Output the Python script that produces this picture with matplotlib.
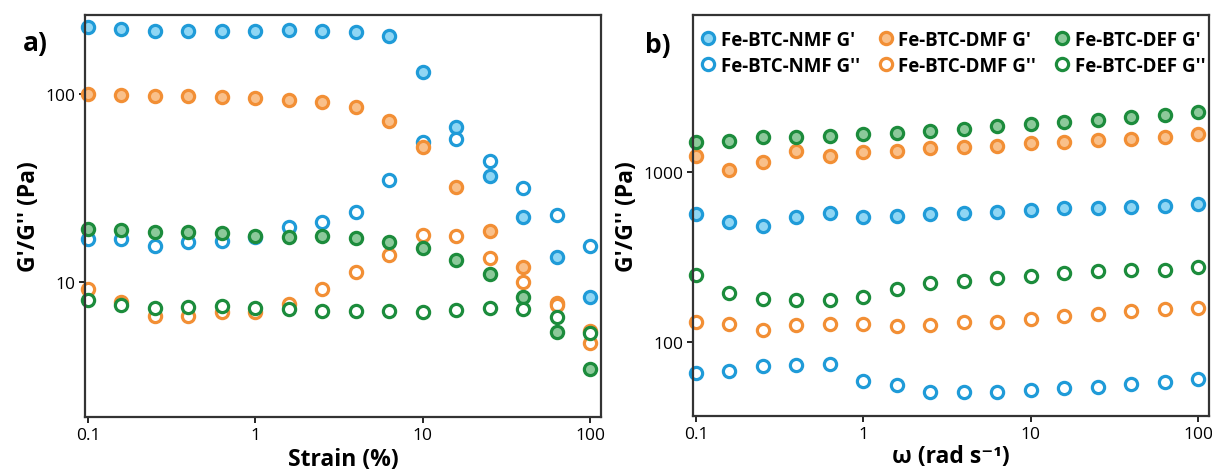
import numpy as np
import matplotlib
matplotlib.use('Agg')
import matplotlib.pyplot as plt

plt.rcParams['font.family'] = ['Open Sans', 'DejaVu Sans']

# shared x grid (strain % / omega rad/s)
x_pts = [0.1, 0.158, 0.251, 0.398, 0.631, 1.0, 1.585, 2.51, 3.98, 6.31,
         10.0, 15.85, 25.1, 39.8, 63.1, 100.0]

# panel a) strain sweep
a_nmf_g1 = [226, 222, 216, 216, 216, 216, 219, 216, 214, 204, 131, 67, 36.6, 22.2, 13.6, 8.3]
a_nmf_g2 = [16.9, 16.9, 15.5, 16.3, 16.5, 17.4, 19.6, 20.9, 23.6, 34.9, 55.6, 57.6, 44.0, 31.6, 22.7, 15.5]
a_dmf_g1 = [100, 98.8, 97.6, 97.6, 96.4, 95.2, 92.9, 90.7, 85.3, 71.8, 52.2, 32.0, 18.7, 12.0, 7.7, 5.5]
a_dmf_g2 = [9.18, 7.83, 6.59, 6.59, 6.92, 6.92, 7.64, 9.18, 11.3, 13.9, 17.8, 17.6, 13.4, 10.0, 7.5, 4.74]
a_def_g1 = [19.1, 18.9, 18.5, 18.5, 18.2, 17.6, 17.4, 17.6, 17.1, 16.3, 15.2, 13.1, 11.0, 8.3, 5.42, 3.44]
a_def_g2 = [8.02, 7.55, 7.27, 7.36, 7.45, 7.27, 7.18, 7.01, 7.01, 7.01, 6.92, 7.05, 7.27, 7.18, 6.51, 5.36]

# panel b) frequency sweep
b_nmf_g1 = [566, 510, 483, 542, 571, 546, 553, 566, 574, 583, 597, 611, 614, 625, 634, 648]
b_nmf_g2 = [65.5, 67.8, 72.6, 73.5, 74.3, 59.2, 56.1, 50.6, 50.6, 50.6, 52.2, 53.5, 54.6, 56.6, 57.9, 60.5]
b_dmf_g1 = [1237, 1032, 1150, 1334, 1247, 1316, 1334, 1384, 1397, 1429, 1476, 1496, 1542, 1563, 1614, 1675]
b_dmf_g2 = [131, 128, 118, 126, 128, 128, 124, 126, 131, 131, 137, 142, 146, 152, 156, 158]
b_def_g1 = [1496, 1517, 1600, 1600, 1622, 1675, 1690, 1734, 1791, 1858, 1914, 1959, 2032, 2099, 2163, 2244]
b_def_g2 = [248, 193, 179, 177, 177, 183, 205, 221, 230, 237, 245, 255, 261, 265, 266, 275]

labels = ["Fe-BTC-NMF G'", "Fe-BTC-NMF G''", "Fe-BTC-DMF G'", "Fe-BTC-DMF G''",
          "Fe-BTC-DEF G'", "Fe-BTC-DEF G''"]

blue = '#1f9bd8'
orange = '#f28f35'
green = '#1c8c3c'
light = {blue: '#8fd6f4', orange: '#f9c08a', green: '#8cc99a'}

fig = plt.figure(figsize=(12.12, 4.77), dpi=100)
ax1 = fig.add_axes([0.0701, 0.1237, 0.4257, 0.8428])
ax2 = fig.add_axes([0.5718, 0.1258, 0.4257, 0.8407])


def draw(ax, series):
    for (y, col, filled), lab in zip(series, labels):
        ax.plot(x_pts, y, linestyle='none', marker='o', markersize=8.8,
                markeredgewidth=2.3, markeredgecolor=col,
                markerfacecolor=light[col] if filled else 'white',
                label=lab, clip_on=False)


draw(ax1, [(a_nmf_g1, blue, True), (a_nmf_g2, blue, False),
           (a_dmf_g1, orange, True), (a_dmf_g2, orange, False),
           (a_def_g1, green, True), (a_def_g2, green, False)])
draw(ax2, [(b_nmf_g1, blue, True), (b_nmf_g2, blue, False),
           (b_dmf_g1, orange, True), (b_dmf_g2, orange, False),
           (b_def_g1, green, True), (b_def_g2, green, False)])

for ax in (ax1, ax2):
    ax.set_xscale('log')
    ax.set_yscale('log')
    ax.set_xlim(0.0959, 116)
    ax.set_xticks([0.1, 1, 10, 100])
    ax.set_xticklabels(['0.1', '1', '10', '100'])
    ax.minorticks_off()
    ax.tick_params(axis='both', which='major', labelsize=12.5, length=4,
                   width=1.2, direction='out', pad=3)
    for sp in ax.spines.values():
        sp.set_linewidth(1.6)
        sp.set_color('#333333')
    ax.set_ylabel("G'/G'' (Pa)", fontsize=16.5, fontweight='bold', labelpad=3)

ax1.set_ylim(1.91, 263)
ax1.set_yticks([10, 100])
ax1.set_yticklabels(['10', '100'])
ax1.set_xlabel('Strain (%)', fontsize=16.5, fontweight='bold', labelpad=3)

ax2.set_ylim(36.7, 8390)
ax2.set_yticks([100, 1000])
ax2.set_yticklabels(['100', '1000'])
ax2.set_xlabel('ω (rad s⁻¹)', fontsize=16.5, fontweight='bold', labelpad=2)
ax2.minorticks_off()

leg = ax2.legend(ncol=3, loc='upper left', bbox_to_anchor=(-0.01, 1.0),
                 frameon=False, handlelength=0.6, handletextpad=0.35,
                 columnspacing=1.1, labelspacing=0.32, borderaxespad=0.4,
                 prop={'size': 13.5, 'weight': 'bold'})

fig.text(0.019, 0.908, 'a)', fontsize=19, fontweight='bold', ha='left', va='center')
fig.text(0.532, 0.905, 'b)', fontsize=19, fontweight='bold', ha='left', va='center')

fig.savefig('out.png', dpi=100)
